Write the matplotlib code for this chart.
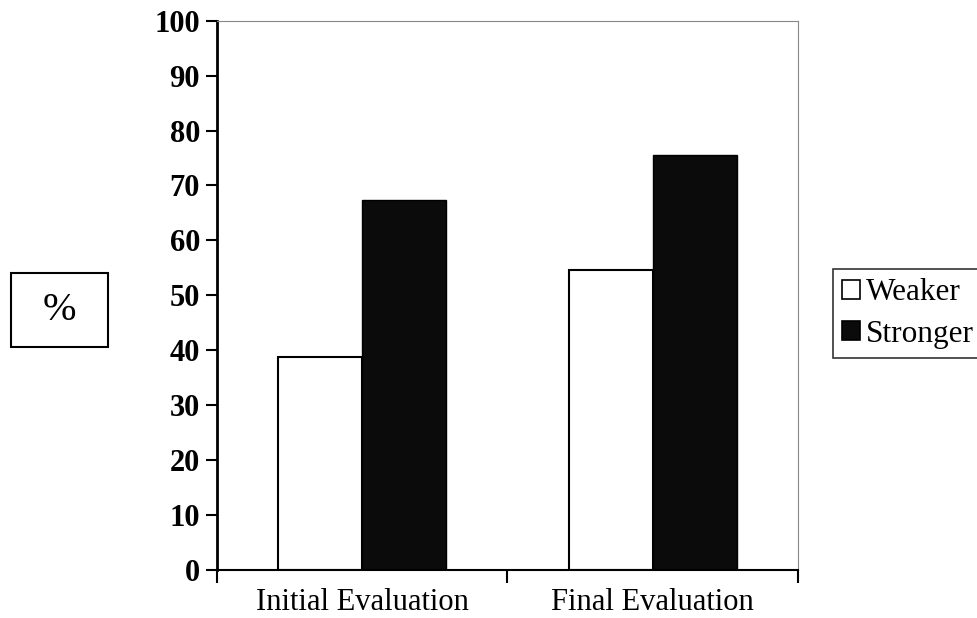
import numpy as np
import matplotlib.pyplot as plt
from matplotlib.patches import Patch, Rectangle

# data
categories = ["Initial Evaluation", "Final Evaluation"]
weaker = [38.7, 54.6]
stronger = [67.4, 75.6]
series_names = ["Weaker", "Stronger"]
y_ticks = list(range(0, 101, 10))

plt.rcParams['font.family'] = ['Liberation Serif', 'DejaVu Serif']

fig = plt.figure(figsize=(9.78, 6.18), dpi=100)
ax = fig.add_axes([0.2216, 0.0777, 0.5945, 0.8888])

centers = np.arange(len(categories)) + 0.5
w = 0.289

ax.bar(centers - w / 2, weaker, width=w, color="white",
       edgecolor="black", linewidth=1.5)
ax.bar(centers + w / 2, stronger, width=w, color="#0b0b0b",
       edgecolor="black", linewidth=1.0)

ax.set_xlim(0, len(categories))
ax.set_ylim(0, 100)

# y axis
ax.set_yticks(y_ticks)
ax.set_yticklabels([str(v) for v in y_ticks], fontsize=22, fontweight="bold")
ax.tick_params(axis="y", direction="out", length=8, width=1.5, pad=4)

# x axis: ticks at category edges, labels centred
ax.set_xticks(np.arange(len(categories) + 1))
ax.set_xticklabels([])
ax.set_xticks(centers, minor=True)
ax.set_xticklabels(categories, minor=True, fontsize=22)
ax.tick_params(axis="x", which="major", direction="out", length=9, width=1.5)
ax.tick_params(axis="x", which="minor", length=0, pad=13)

for side in ["top", "right"]:
    ax.spines[side].set_color("#888888")
    ax.spines[side].set_linewidth(0.8)
    ax.spines[side].set_linestyle((0, (3, 1)))
ax.spines["left"].set_linewidth(2)
ax.spines["bottom"].set_linewidth(1.5)

# "%" label in a box
fig.patches.append(Rectangle((11 / 978, 1 - 347 / 618), 97 / 978, 74 / 618,
                             transform=fig.transFigure, fill=False,
                             edgecolor="black", linewidth=1.5))
fig.text(59 / 978, 1 - 311 / 618, "%", fontsize=29, ha="center", va="center")

# legend
handles = [Patch(facecolor="white", edgecolor="black", linewidth=1.2),
           Patch(facecolor="#0b0b0b", edgecolor="black", linewidth=1.2)]
leg = fig.legend(handles, series_names, loc="upper left",
                 bbox_to_anchor=(833 / 978, 1 - 269 / 618),
                 fontsize=22.5, frameon=True, fancybox=False,
                 handlelength=0.55, handleheight=0.55, handletextpad=0.2,
                 labelspacing=0.4, borderpad=0.3, borderaxespad=0)
leg.get_frame().set_edgecolor("black")
leg.get_frame().set_linewidth(1.2)

fig.savefig("out.png", dpi=100)
